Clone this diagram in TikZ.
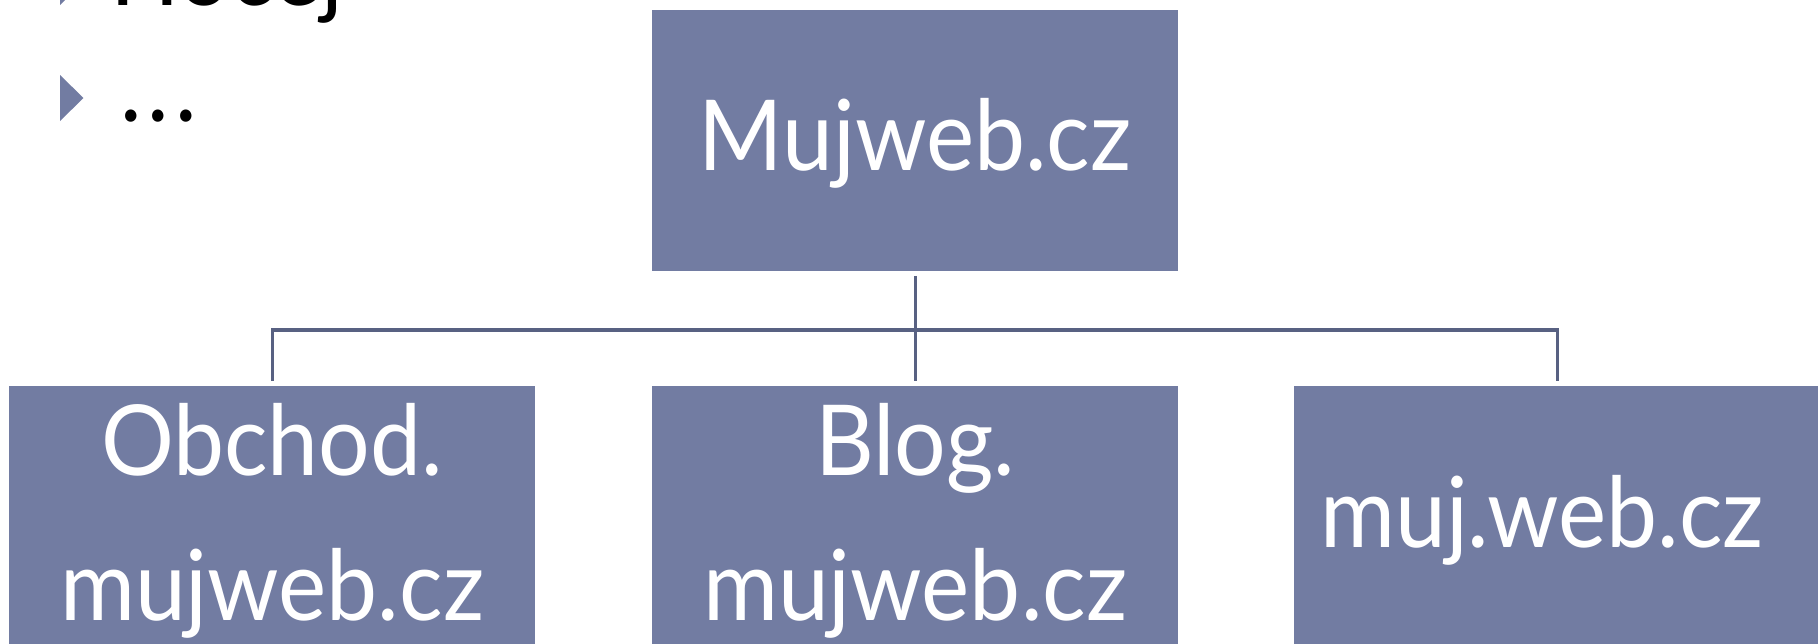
\documentclass[tikz,border=0pt]{standalone}
\usepackage{fontspec}
\setmainfont{Lato}[FakeStretch=0.93]
\definecolor{boxfill}{RGB}{114,124,162}
\definecolor{connline}{RGB}{88,97,130}
\begin{document}
\begin{tikzpicture}[x=0.5pt,y=-0.5pt,
  box/.style={fill=boxfill, draw=none, minimum width=263pt, minimum height=130.5pt, inner sep=0pt, anchor=north west},
  lbl/.style={text=white, font=\fontsize{49}{58}\selectfont, anchor=base, inner sep=0pt},
  conn/.style={draw=connline, line width=1.9pt},
  bul/.style={fill=boxfill},
  btxt/.style={font=\fontsize{49}{58}\selectfont, anchor=base west, inner sep=0pt}]
\useasboundingbox (0,0) rectangle (1818,643);
\clip (0,0) rectangle (1818,643);
% boxes
\node[box] (top) at (652,10) {};
\node[box] (b1) at (9,386) {};
\node[box] (b2) at (652,386) {};
\node[box] (b3) at (1294,386) {};
% labels
\node[lbl] (toplbl) at (915,170) {Mujweb.cz};
\node[lbl] (b1a) at (272,475) {Obchod.};
\node[lbl] (b1b) at (272,620) {mujweb.cz};
\node[lbl] (b2a) at (915,475) {Blog.};
\node[lbl] (b2b) at (915,620) {mujweb.cz};
\node[lbl] (b3a) at (1542,547) {muj.web.cz};
% connectors
\coordinate (hub) at (915,330);
\draw[conn] ([yshift=-2pt]top.south) -- ([yshift=2.5pt]b2.north);
\draw[conn] ([yshift=2.5pt]b1.north) |- (hub) -| ([yshift=2.5pt]b3.north);
% bullets
\fill[bul] (60,-41) -- (83.5,-18) -- (60,5) -- cycle;
\fill[bul] (60,75) -- (83.5,98) -- (60,121) -- cycle;
\node[btxt] (prev) at (110,5) {Hocej};
\node[btxt] (more) at (120,121.5) {.\hspace{3pt}.\hspace{3pt}.};
\end{tikzpicture}
\end{document}
